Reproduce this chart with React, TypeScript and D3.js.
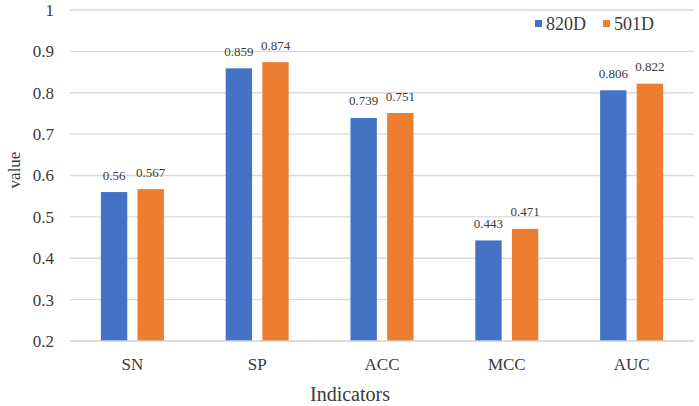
import React, { useEffect, useRef } from "react";
import * as d3 from "d3";

const indicators = ["SN", "SP", "ACC", "MCC", "AUC"];
const seriesNames = ["820D", "501D"];
const values820D = [0.56, 0.859, 0.739, 0.443, 0.806];
const values501D = [0.567, 0.874, 0.751, 0.471, 0.822];
const yTicks = [0.2, 0.3, 0.4, 0.5, 0.6, 0.7, 0.8, 0.9, 1];
const colors = ["#4472C4", "#ED7D31"];

const BarChart: React.FC = () => {
  const svgRef = useRef<SVGSVGElement | null>(null);

  useEffect(() => {
    const width = 699;
    const height = 406;
    const margin = { top: 10, right: 5, bottom: 65, left: 70 };
    const font = "Liberation Serif, DejaVu Serif, Times New Roman, serif";
    const textColor = "#3a3a3a";

    const svg = d3.select(svgRef.current);
    svg.selectAll("*").remove();
    svg.attr("width", width).attr("height", height);

    const x0 = d3.scaleBand<string>()
      .domain(indicators)
      .range([margin.left, width - margin.right])
      .paddingInner(0)
      .paddingOuter(0);

    const x1 = d3.scaleBand<string>()
      .domain(seriesNames)
      .range([0, 63])
      .paddingInner(0.28);

    const y = d3.scaleLinear()
      .domain([0.2, 1])
      .range([height - margin.bottom, margin.top]);

    // gridlines
    svg.append("g")
      .selectAll("line")
      .data(yTicks.slice(1))
      .join("line")
      .attr("x1", margin.left)
      .attr("x2", width - margin.right)
      .attr("y1", d => y(d))
      .attr("y2", d => y(d))
      .attr("stroke", "#d9d9d9")
      .attr("stroke-width", 1.3);

    // y tick labels
    svg.append("g")
      .selectAll("text")
      .data(yTicks)
      .join("text")
      .attr("x", 54)
      .attr("y", d => y(d))
      .attr("dy", "0.35em")
      .attr("text-anchor", "end")
      .attr("font-family", font)
      .attr("font-size", 17)
      .attr("fill", textColor)
      .text(d => (d === 1 ? "1" : d3.format(".1f")(d)));

    const series = [values820D, values501D];
    const offset = (x0.bandwidth() - 63) / 2;

    series.forEach((vals, si) => {
      const g = svg.append("g");
      g.selectAll("rect")
        .data(vals)
        .join("rect")
        .attr("x", (_, i) => (x0(indicators[i]) ?? 0) + offset + (x1(seriesNames[si]) ?? 0))
        .attr("width", x1.bandwidth())
        .attr("y", d => y(d))
        .attr("height", d => y(0.2) - y(d))
        .attr("fill", colors[si]);

      g.selectAll("text")
        .data(vals)
        .join("text")
        .attr("x", (_, i) => (x0(indicators[i]) ?? 0) + offset + (x1(seriesNames[si]) ?? 0) + x1.bandwidth() / 2)
        .attr("y", d => y(d) - 12.5)
        .attr("text-anchor", "middle")
        .attr("font-family", font)
        .attr("font-size", 13)
        .attr("fill", textColor)
        .text(d => String(d));
    });

    // bottom axis line
    svg.append("line")
      .attr("x1", margin.left)
      .attr("x2", width - margin.right)
      .attr("y1", y(0.2))
      .attr("y2", y(0.2))
      .attr("stroke", "#d0d0d0")
      .attr("stroke-width", 1.3);

    // x tick labels
    svg.append("g")
      .selectAll("text")
      .data(indicators)
      .join("text")
      .attr("x", d => (x0(d) ?? 0) + x0.bandwidth() / 2)
      .attr("y", 370)
      .attr("text-anchor", "middle")
      .attr("font-family", font)
      .attr("font-size", 17)
      .attr("fill", textColor)
      .text(d => d);

    // axis titles
    svg.append("text")
      .attr("x", 310)
      .attr("y", 401)
      .attr("font-family", font)
      .attr("font-size", 20)
      .attr("fill", textColor)
      .text("Indicators");

    svg.append("text")
      .attr("transform", "translate(20, 170) rotate(-90)")
      .attr("text-anchor", "middle")
      .attr("font-family", font)
      .attr("font-size", 17)
      .attr("fill", textColor)
      .text("value");

    // legend
    const legendX = [535, 603];
    seriesNames.forEach((name, i) => {
      svg.append("rect")
        .attr("x", legendX[i])
        .attr("y", 20)
        .attr("width", 7)
        .attr("height", 7)
        .attr("fill", colors[i]);
      svg.append("text")
        .attr("x", legendX[i] + 11)
        .attr("y", 30)
        .attr("font-family", font)
        .attr("font-size", 18)
        .attr("fill", textColor)
        .text(name);
    });
  }, []);

  return (
    <svg
      ref={svgRef}
      style={{ position: "absolute", left: 0, top: 0, background: "#fff" }}
    ></svg>
  );
};

export default function App() {
  return <BarChart />;
}
